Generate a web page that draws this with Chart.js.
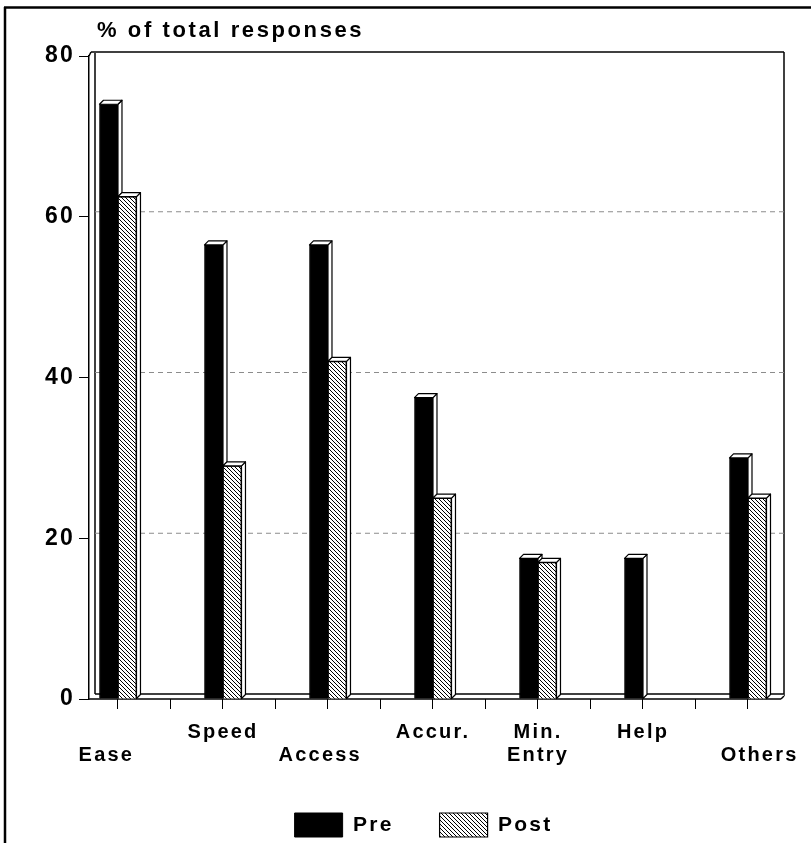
<!DOCTYPE html>
<html>
<head>
<meta charset="utf-8">
<script src="https://cdn.jsdelivr.net/npm/chart.js@4"></script>
<style>
  html, body { margin: 0; padding: 0; background: #fff; }
  canvas { display: block; }
</style>
</head>
<body>
<canvas id="chart" width="811" height="843"></canvas>
<script>
// Reasons given, before and after, as % of total responses
const categories = ['Ease', 'Speed', 'Access', 'Accur.', 'Min. Entry', 'Help', 'Others'];
const tickLabels = [['', 'Ease   '], ['Speed'], ['', 'Access  '], ['Accur.'], ['Min.', 'Entry'], ['Help'], ['', '   Others']];
const preValues = [74, 56.5, 56.5, 37.5, 17.5, 17.5, 30];
const postValues = [62.5, 29, 42, 25, 17, 0, 25];
const seriesNames = ['Pre', 'Post'];
const yTickValues = [0, 20, 40, 60, 80];
const axisTitle = '% of total responses';

const FONT = 'Liberation Sans';
const SPACING = '2.2px';
const DEPTH = 4;      // offset of bar side/top faces
const WALL = 6;       // thickness of the left wall
const BACK = 4;       // vertical offset of the back wall
const RIGHT_GAP = 27; // blank margin between the back wall and the canvas edge

// tick marks at each category and halfway between neighbours
const tickPositions = [];
categories.forEach((c, i) => { if (i > 0) tickPositions.push(i - 0.5); tickPositions.push(i); });

const canvas = document.getElementById('chart');
const ctx = canvas.getContext('2d');

function makeHatch() {
  const s = 4;
  const tile = document.createElement('canvas');
  tile.width = s; tile.height = s;
  const g = tile.getContext('2d');
  g.fillStyle = '#fff';
  g.fillRect(0, 0, s, s);
  g.strokeStyle = '#000';
  g.lineWidth = 1.0;
  g.beginPath();
  g.moveTo(-1, -1); g.lineTo(s + 1, s + 1);
  g.moveTo(-1, s - 1); g.lineTo(1, s + 1);
  g.moveTo(s - 1, -1); g.lineTo(s + 1, 1);
  g.stroke();
  return ctx.createPattern(tile, 'repeat');
}
const hatch = makeHatch();

function line(c, x1, y1, x2, y2) {
  c.beginPath(); c.moveTo(x1, y1); c.lineTo(x2, y2); c.stroke();
}
function poly(c, pts) {
  c.beginPath();
  c.moveTo(pts[0][0], pts[0][1]);
  for (let k = 1; k < pts.length; k++) c.lineTo(pts[k][0], pts[k][1]);
  c.closePath();
  c.fill();
  c.stroke();
}

const boxPlugin = {
  id: 'box3d',
  beforeUpdate(chart) { chart.ctx.letterSpacing = SPACING; },
  beforeDraw(chart) { chart.ctx.letterSpacing = SPACING; },
  beforeDatasetsDraw(chart) {
    const { ctx: c, chartArea, scales: { y } } = chart;
    const L = chartArea.left, R = chartArea.right - RIGHT_GAP, T = chartArea.top, B = chartArea.bottom;
    c.save();
    c.strokeStyle = '#000';
    c.fillStyle = '#fff';
    c.lineWidth = 1.5;
    // back wall outline
    line(c, L, T, L + 2, T - BACK);
    line(c, L + 2, T - BACK, R, T - BACK);
    line(c, R, T - BACK, R, B - 3);
    line(c, L + WALL, T - BACK + 1, L + WALL, B - 5);
    // dashed grid on the back wall
    c.save();
    c.strokeStyle = '#8c8c8c';
    c.lineWidth = 1;
    c.setLineDash([5, 4]);
    yTickValues.forEach(v => {
      if (v <= y.min || v >= y.max) return;
      const yy = y.getPixelForValue(v) - BACK - 1;
      line(c, L + WALL, yy, R, yy);
    });
    c.restore();
    // floor slab
    c.beginPath();
    c.moveTo(L, B);
    c.lineTo(L + WALL, B - 5);
    c.lineTo(R, B - 5);
    c.lineTo(R, B - 3);
    c.lineTo(R - 3, B);
    c.closePath();
    c.fill();
    line(c, L + WALL, B - 5, R, B - 5);
    line(c, L, B, R - 3, B);
    line(c, R - 3, B, R, B - 3);
    c.restore();
  },
  afterDatasetsDraw(chart) {
    const c = chart.ctx;
    const metas = chart.data.datasets.map((d, i) => chart.getDatasetMeta(i));
    c.save();
    c.strokeStyle = '#000';
    c.fillStyle = '#fff';
    c.lineWidth = 1.2;
    c.lineJoin = 'round';
    categories.forEach((cat, i) => {
      metas.forEach((meta, d) => {
        const bar = meta.data[i];
        if (!bar) return;
        const { x, y, base, width } = bar.getProps(['x', 'y', 'base', 'width'], true);
        if (base - y < 0.5) return;
        const l = x - width / 2, r = x + width / 2;
        let bottom = base;
        const nextMeta = metas[d + 1];
        if (nextMeta && nextMeta.data[i]) {
          const n = nextMeta.data[i].getProps(['y', 'base'], true);
          if (n.base - n.y >= 0.5) bottom = Math.max(y, n.y);
        }
        poly(c, [[r, y], [r + DEPTH, y - DEPTH], [r + DEPTH, bottom - DEPTH], [r, bottom]]);
        poly(c, [[l, y], [l + DEPTH, y - DEPTH], [r + DEPTH, y - DEPTH], [r, y]]);
      });
    });
    c.restore();
  },
  afterDraw(chart) {
    const c = chart.ctx;
    const { chartArea } = chart;
    c.save();
    c.letterSpacing = '2.6px';
    c.fillStyle = '#000';
    c.font = 'bold 22px "' + FONT + '"';
    c.textAlign = 'left';
    c.textBaseline = 'alphabetic';
    c.fillText(axisTitle, chartArea.left + 8, chartArea.top - 19);
    // page frame
    c.strokeStyle = '#000';
    c.lineWidth = 2.5;
    line(c, 5, 7, 5, chart.height);
    line(c, 4, 7.5, chart.width, 7.5);
    c.restore();
  }
};

Chart.defaults.color = '#000';
Chart.defaults.font.family = FONT;

new Chart(ctx, {
  type: 'bar',
  data: {
    datasets: [
      {
        label: seriesNames[0],
        data: categories.map((c, i) => ({ x: i, y: preValues[i] })),
        backgroundColor: '#000',
        borderColor: '#000',
        borderWidth: 1,
        barThickness: 18.5
      },
      {
        label: seriesNames[1],
        data: categories.map((c, i) => ({ x: i, y: postValues[i] })),
        backgroundColor: hatch,
        borderColor: '#000',
        borderWidth: 1.2,
        barThickness: 18.5
      }
    ]
  },
  options: {
    responsive: false,
    animation: false,
    devicePixelRatio: 1,
    events: [],
    layout: { padding: { top: 56, left: 36, right: 0, bottom: -4 } },
    scales: {
      x: {
        type: 'linear',
        offset: false,
        min: -0.276,
        max: 6.6,
        bounds: 'data',
        border: { display: false },
        grid: { offset: false, drawOnChartArea: false, drawTicks: true, tickLength: 10, tickColor: '#000', tickWidth: 1 },
        afterBuildTicks(scale) { scale.ticks = tickPositions.map(v => ({ value: v })); },
        afterFit(scale) { scale.height = 68; },
        ticks: {
          autoSkip: false,
          maxRotation: 0,
          minRotation: 0,
          padding: 12,
          color: '#000',
          font: { family: FONT, size: 20, weight: 'bold', lineHeight: 1.15 },
          callback: v => (Number.isInteger(v) && tickLabels[v]) ? tickLabels[v] : ''
        }
      },
      y: {
        min: 0,
        max: 80,
        border: { display: true, color: '#000', width: 1.5 },
        grid: { drawOnChartArea: false, drawTicks: true, tickLength: 10, tickColor: '#000', tickWidth: 1 },
        afterBuildTicks(scale) { scale.ticks = yTickValues.map(v => ({ value: v })); },
        afterFit(scale) { scale.width = 53; },
        ticks: {
          padding: 4,
          color: '#000',
          font: { family: FONT, size: 23, weight: 'bold' }
        }
      }
    },
    plugins: {
      legend: {
        position: 'bottom',
        labels: {
          boxWidth: 48,
          boxHeight: 24,
          padding: 46,
          color: '#000',
          font: { family: FONT, size: 21, weight: 'bold' }
        }
      },
      title: { display: false },
      tooltip: { enabled: false }
    }
  },
  plugins: [boxPlugin]
});
</script>
</body>
</html>
